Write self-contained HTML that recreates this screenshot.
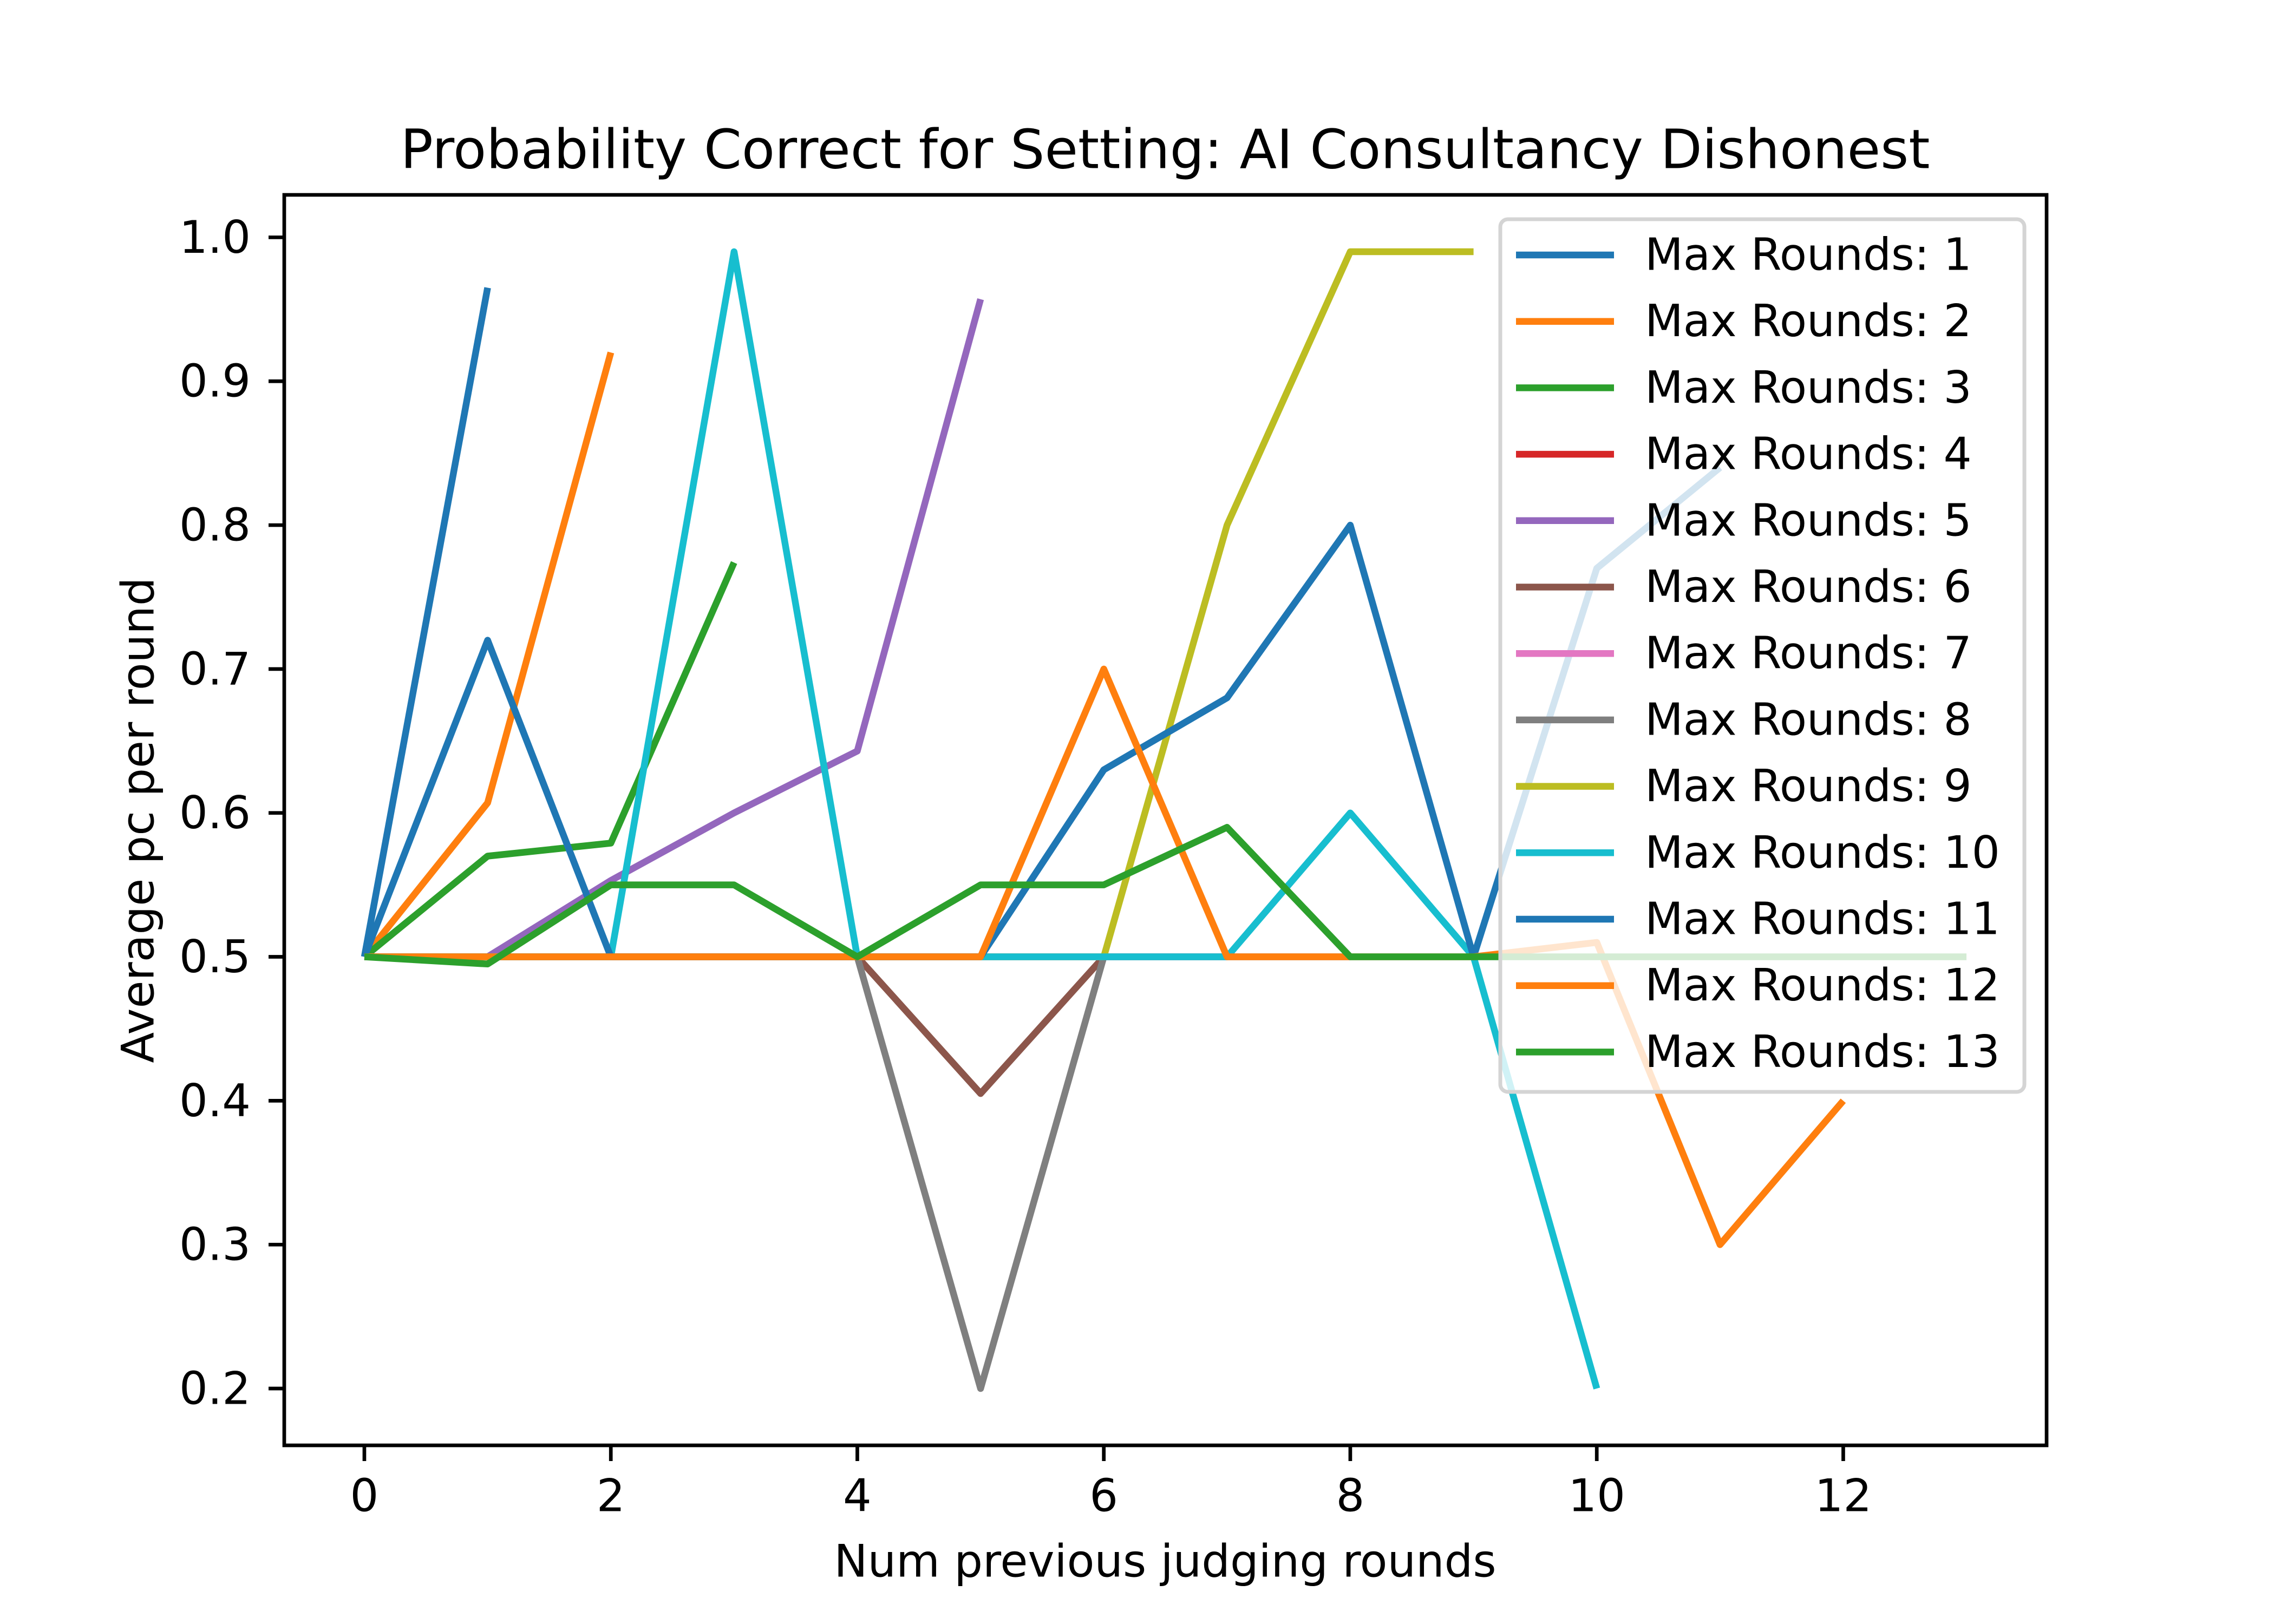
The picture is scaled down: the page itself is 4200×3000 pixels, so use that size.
<!DOCTYPE html>
<html><head><meta charset="utf-8"><style>
html,body{margin:0;padding:0;background:#fff;}
svg{display:block;font-family:"DejaVu Sans","Liberation Sans",sans-serif;}
</style></head><body>
<svg id="chart" width="4200" height="3000" viewBox="0 0 4200 3000" xmlns="http://www.w3.org/2000/svg">
<rect x="0" y="0" width="4200" height="3000" fill="#fff"/>
<text x="2152" y="276" font-size="100" text-anchor="middle" dominant-baseline="central">Probability Correct for Setting: AI Consultancy Dishonest</text>
<text x="2152" y="2884" font-size="83" text-anchor="middle" dominant-baseline="central">Num previous judging rounds</text>
<text x="255" y="1515" font-size="83" text-anchor="middle" dominant-baseline="central" transform="rotate(-90 255 1515)">Average pc per round</text>
<g id="series"></g>
<g id="axes"></g>
<g id="legend"></g>
</svg>
<script>
const xTicks = [0, 2, 4, 6, 8, 10, 12];
const yTicks = [0.2, 0.3, 0.4, 0.5, 0.6, 0.7, 0.8, 0.9, 1.0];
const yTickLabels = ["0.2", "0.3", "0.4", "0.5", "0.6", "0.7", "0.8", "0.9", "1.0"];
const seriesNames = ["Max Rounds: 1","Max Rounds: 2","Max Rounds: 3","Max Rounds: 4","Max Rounds: 5","Max Rounds: 6","Max Rounds: 7","Max Rounds: 8","Max Rounds: 9","Max Rounds: 10","Max Rounds: 11","Max Rounds: 12","Max Rounds: 13"];
const s1 = [0.5, 0.965];
const s2 = [0.5, 0.607, 0.92];
const s3 = [0.5, 0.57, 0.579, 0.774];
const s4 = [0.5, 0.5, 0.5, 0.5, 0.5];
const s5 = [0.5, 0.5, 0.553, 0.6, 0.643, 0.957];
const s6 = [0.5, 0.5, 0.5, 0.5, 0.5, 0.405, 0.5];
const s7 = [0.5, 0.5, 0.5, 0.5, 0.5, 0.5, 0.5, 0.5];
const s8 = [0.5, 0.5, 0.5, 0.5, 0.5, 0.2, 0.5, 0.5, 0.5];
const s9 = [0.5, 0.5, 0.5, 0.5, 0.5, 0.5, 0.5, 0.8, 0.99, 0.99];
const s10 = [0.5, 0.5, 0.5, 0.99, 0.5, 0.5, 0.5, 0.5, 0.6, 0.5, 0.2];
const s11 = [0.5, 0.72, 0.5, 0.5, 0.5, 0.5, 0.63, 0.68, 0.8, 0.5, 0.77, 0.84];
const s12 = [0.5, 0.5, 0.5, 0.5, 0.5, 0.5, 0.7, 0.5, 0.5, 0.5, 0.51, 0.3, 0.4];
const s13 = [0.5, 0.495, 0.55, 0.55, 0.5, 0.55, 0.55, 0.59, 0.5, 0.5, 0.5, 0.5, 0.5, 0.5];
const allSeries = [s1,s2,s3,s4,s5,s6,s7,s8,s9,s10,s11,s12,s13];
const colors = ["#1f77b4","#ff7f0e","#2ca02c","#d62728","#9467bd","#8c564b","#e377c2","#7f7f7f","#bcbd22","#17becf","#1f77b4","#ff7f0e","#2ca02c"];

const NS = "http://www.w3.org/2000/svg";
const AX = {l:525, r:3780, t:360, b:2670};
const xMin = -0.65, xMax = 13.65, yMin = 0.1605, yMax = 1.0295;
function xs(v){ return AX.l + (v - xMin) / (xMax - xMin) * (AX.r - AX.l); }
function ys(v){ return AX.b - (v - yMin) / (yMax - yMin) * (AX.b - AX.t); }
function mk(tag, attrs, parent){ const e = document.createElementNS(NS, tag); for (const k in attrs) e.setAttribute(k, attrs[k]); parent.appendChild(e); return e; }

const sg = document.getElementById('series');
allSeries.forEach((s, i) => {
  const pts = s.map((v, j) => xs(j).toFixed(1) + ',' + ys(v).toFixed(1)).join(' ');
  const pl = mk('polyline', {points: pts, fill: 'none', stroke: colors[i], 'stroke-width': 12.5, 'stroke-linejoin': 'round', 'stroke-linecap': 'butt'}, sg);
  
  
});

const ag = document.getElementById('axes');
const frame = mk('rect', {x: AX.l, y: AX.t, width: AX.r - AX.l, height: AX.b - AX.t, fill: 'none', stroke: '#000', 'stroke-width': 6.7}, ag);


xTicks.forEach(v => {
  const x = xs(v);
  const t = mk('line', {x1: x, y1: AX.b, x2: x, y2: AX.b + 29, stroke: '#000', 'stroke-width': 6.7}, ag);
  
  
  const lb = mk('text', {x: x, y: AX.b + 93, 'font-size': 83, 'text-anchor': 'middle', 'dominant-baseline': 'central'}, ag);
  lb.textContent = String(v);
  
  
});
yTicks.forEach((v, i) => {
  const y = ys(v);
  const t = mk('line', {x1: AX.l - 29, y1: y, x2: AX.l, y2: y, stroke: '#000', 'stroke-width': 6.7}, ag);
  
  
  const lb = mk('text', {x: AX.l - 62, y: y, 'font-size': 83, 'text-anchor': 'end', 'dominant-baseline': 'central'}, ag);
  lb.textContent = yTickLabels[i];
  
  
});

const lg = document.getElementById('legend');
const box = mk('rect', {x: 2771, y: 405, width: 968, height: 1612, rx: 14, fill: 'rgba(255,255,255,0.8)', stroke: '#d4d4d4', 'stroke-width': 7}, lg);


seriesNames.forEach((n, i) => {
  const y = 471 + i * 122.7;
  const ln = mk('line', {x1: 2800, y1: y, x2: 2981, y2: y, stroke: colors[i], 'stroke-width': 12.5}, lg);
  
  
  const tx = mk('text', {x: 3038, y: y, 'font-size': 82, 'dominant-baseline': 'central'}, lg);
  tx.textContent = n;
  
  
});
</script>
</body></html>
